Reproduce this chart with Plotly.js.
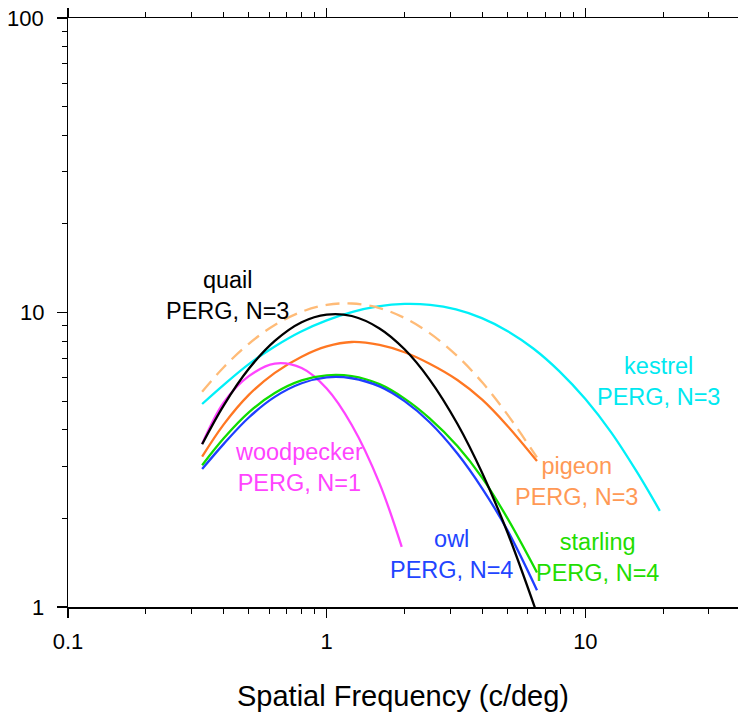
<!DOCTYPE html>
<html>
<head>
<meta charset="utf-8">
<script src="https://cdn.plot.ly/plotly-3.0.1.min.js"></script>
<style>html,body{margin:0;padding:0;background:#fff;}#chart{width:738px;height:713px;}</style>
</head>
<body>
<div id="chart"></div>
<script>
// Spatial frequency (c/deg) sample points
var freqs = [0.33, 0.4, 0.5, 0.63, 0.8, 1.0, 1.25, 1.6, 2.0, 2.5, 3.2, 4.0, 5.0, 6.5];
var quailAmp = [3.57, 4.84, 6.44, 8.01, 9.27, 9.84, 9.73, 8.83, 7.50, 5.92, 4.19, 2.84, 1.79, 0.95];
var pigeonDashedAmp = [5.38, 6.52, 7.83, 9.07, 10.06, 10.61, 10.73, 10.35, 9.58, 8.51, 7.11, 5.78, 4.50, 3.22];
var pigeonAmp = [3.24, 4.17, 5.25, 6.24, 7.08, 7.67, 7.94, 7.76, 7.33, 6.70, 5.90, 5.05, 4.12, 3.13];
var starlingAmp = [3.03, 3.74, 4.58, 5.33, 5.88, 6.12, 6.08, 5.71, 5.10, 4.37, 3.52, 2.74, 2.00, 1.31];
var owlAmp = [2.94, 3.58, 4.40, 5.17, 5.75, 6.02, 5.98, 5.61, 5.00, 4.24, 3.32, 2.52, 1.82, 1.14];

var woodFreqs = [0.33, 0.4, 0.5, 0.63, 0.8, 1.0, 1.25, 1.6, 1.95];
var woodpeckerAmp = [3.58, 4.95, 6.08, 6.71, 6.48, 5.52, 4.15, 2.63, 1.60];

var kestrelFreqs = [0.33, 0.4, 0.5, 0.63, 0.79, 1.0, 1.26, 1.58, 2.0, 2.51, 3.16, 3.98, 5.01, 6.31, 7.94, 10.0, 12.6, 15.8, 19.4];
var kestrelAmp = [4.89, 5.68, 6.68, 7.67, 8.59, 9.40, 10.05, 10.49, 10.69, 10.61, 10.24, 9.57, 8.64, 7.53, 6.31, 5.08, 3.91, 2.88, 2.12];

var xTickVals = [0.1, 1, 10];
var xTickText = ['0.1', '1', '10'];
var xMinorVals = [0.2,0.3,0.4,0.5,0.6,0.7,0.8,0.9,2,3,4,5,6,7,8,9,20,30];
var yTickVals = [1, 10, 100];
var yTickText = ['1', '10', '100'];
var yMinorVals = [2,3,4,5,6,7,8,9,20,30,40,50,60,70,80,90];

var labels = [
  {text: 'quail<br>PERG, N=3', color: '#000000', x: 0.2388, y: 0.5297},
  {text: 'woodpecker<br>PERG, N=1', color: '#FF44FF', x: 0.3448, y: 0.236},
  {text: 'owl<br>PERG, N=4', color: '#2244FF', x: 0.5731, y: 0.0883},
  {text: 'starling<br>PERG, N=4', color: '#22DD00', x: 0.791, y: 0.0832},
  {text: 'pigeon<br>PERG, N=3', color: '#FF9955', x: 0.7597, y: 0.2139},
  {text: 'kestrel<br>PERG, N=3', color: '#00E8F0', x: 0.882, y: 0.3837}
];

function line(x, y, color, dash) {
  return {x: x, y: y, type: 'scatter', mode: 'lines', hoverinfo: 'skip',
    line: {color: color, width: 2.3, shape: 'spline', smoothing: 1, dash: dash || 'solid'}};
}

var data = [
  line(kestrelFreqs, kestrelAmp, '#00F0F8'),
  line(freqs, pigeonDashedAmp, '#FFBB77', '14px,8px'),
  line(freqs, pigeonAmp, '#FF7722'),
  line(woodFreqs, woodpeckerAmp, '#FF44FF'),
  line(freqs, starlingAmp, '#11DD00'),
  line(freqs, owlAmp, '#1F3FFF'),
  line(freqs, quailAmp, '#000000')
];

var font = 'Arial, "Liberation Sans", sans-serif';

var annotations = labels.map(function (l) {
  return {text: l.text, x: l.x, y: l.y, xref: 'paper', yref: 'paper',
    xanchor: 'center', yanchor: 'middle', align: 'center', showarrow: false,
    font: {size: 23.5, family: font, color: l.color}};
});
// y-axis tick labels placed on the y scale (log axis -> log10 of the value)
yTickVals.forEach(function (v, i) {
  annotations.push({text: yTickText[i], xref: 'paper', x: -0.0335, yref: 'y', y: Math.log10(v),
    xanchor: 'right', yanchor: 'middle', showarrow: false,
    font: {size: 22, family: font, color: '#000'}});
});

var layout = {
  width: 738, height: 713,
  margin: {l: 68, r: 0, t: 18, b: 106},
  paper_bgcolor: '#ffffff', plot_bgcolor: '#ffffff',
  showlegend: false,
  font: {family: font, color: '#000', size: 22},
  xaxis: {
    type: 'log', range: [-1, 1.59], showgrid: false, zeroline: false,
    showline: true, linecolor: '#000', linewidth: 1.5, mirror: 'ticks',
    ticks: 'outside', ticklen: 9, tickwidth: 1.2, tickcolor: '#000',
    tickmode: 'array', tickvals: xTickVals, ticktext: xTickText,
    tickfont: {size: 22, family: font, color: '#000'}, ticklabelstandoff: 5,
    minor: {tickmode: 'array', tickvals: xMinorVals, ticks: 'outside', ticklen: 5, tickwidth: 1, tickcolor: '#000', showgrid: false},
    title: {text: 'Spatial Frequency (c/deg)', font: {size: 29, family: font, color: '#000'}, standoff: 33}
  },
  yaxis: {
    type: 'log', range: [0, 2], showgrid: false, zeroline: false,
    showline: true, linecolor: '#000', linewidth: 1.5,
    ticks: 'outside', ticklen: 10, tickwidth: 1.2, tickcolor: '#000',
    tickmode: 'array', tickvals: yTickVals, ticktext: yTickText, showticklabels: false,
    minor: {tickmode: 'array', tickvals: yMinorVals, ticks: 'outside', ticklen: 5, tickwidth: 1, tickcolor: '#000', showgrid: false}
  },
  annotations: annotations
};

Plotly.newPlot('chart', data, layout, {displayModeBar: false, staticPlot: true});
</script>
</body>
</html>
